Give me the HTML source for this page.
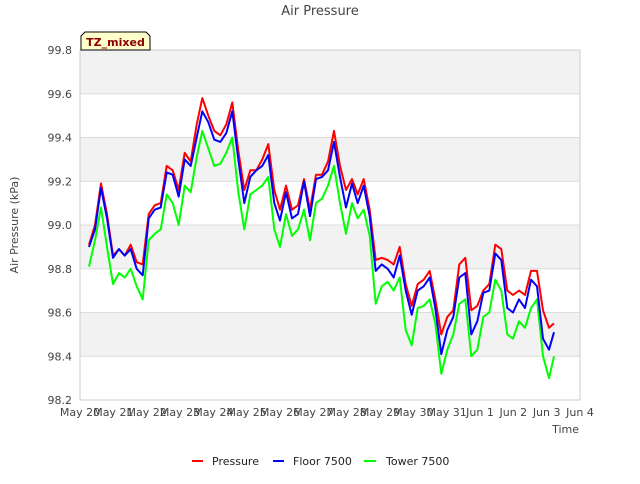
<!DOCTYPE html>
<html><head><meta charset="utf-8"><style>
body{margin:0;background:#fff;font-family:"DejaVu Sans","Liberation Sans",sans-serif;}
svg text{font-family:"DejaVu Sans","Liberation Sans",sans-serif;}
</style></head><body>
<svg id="c" width="640" height="480" xmlns="http://www.w3.org/2000/svg">
<text x="320" y="15" text-anchor="middle" font-size="13" fill="#444">Air Pressure</text>
<g id="bands"></g><g id="grid"></g>
<rect x="80" y="50" width="500" height="350" fill="none" stroke="#ccc"/>
<g id="yt"></g><g id="xt"></g><g id="series"></g>
<text x="18" y="225" transform="rotate(-90 18 225)" text-anchor="middle" font-size="11" fill="#444">Air Pressure (kPa)</text>
<text x="579" y="433" text-anchor="end" font-size="11" fill="#444">Time</text>
<g>
<path d="M81,50 L81,36 L85,32 L146,32 L150,36 L150,50 Z" fill="#ffffcc" stroke="#000" stroke-width="1"/>
<text x="115.5" y="46" text-anchor="middle" font-size="11" font-weight="bold" fill="#8b0000">TZ_mixed</text>
</g>
<g>
<g><line x1="192" y1="461" x2="203" y2="461" stroke="#ff0000" stroke-width="2"/><text x="212" y="465" font-size="11" fill="#222">Pressure</text></g>
<g><line x1="273" y1="461" x2="284" y2="461" stroke="#0000ff" stroke-width="2"/><text x="293" y="465" font-size="11" fill="#222">Floor 7500</text></g>
<g><line x1="364" y1="461" x2="376" y2="461" stroke="#00ff00" stroke-width="2"/><text x="386" y="465" font-size="11" fill="#222">Tower 7500</text></g>
</g>
</svg>
<script>
const yTicks=[98.2,98.4,98.6,98.8,99.0,99.2,99.4,99.6,99.8];
const xTickLabels=["May 20","May 21","May 22","May 23","May 24","May 25","May 26","May 27","May 28","May 29","May 30","May 31","Jun 1","Jun 2","Jun 3","Jun 4"];
const times=[0.27,0.45,0.63,0.81,0.99,1.17,1.34,1.52,1.70,1.88,2.06,2.24,2.42,2.60,2.78,2.96,3.14,3.32,3.50,3.67,3.85,4.03,4.21,4.39,4.57,4.75,4.93,5.11,5.29,5.47,5.65,5.83,6.00,6.18,6.36,6.54,6.72,6.90,7.08,7.26,7.44,7.62,7.80,7.98,8.16,8.33,8.51,8.69,8.87,9.05,9.23,9.41,9.59,9.77,9.95,10.13,10.31,10.49,10.66,10.84,11.02,11.20,11.38,11.56,11.74,11.92,12.10,12.28,12.46,12.64,12.82,12.99,13.17,13.35,13.53,13.71,13.89,14.07,14.22];
const pressure=[98.91,99.00,99.19,99.05,98.86,98.89,98.86,98.91,98.83,98.82,99.05,99.09,99.10,99.27,99.25,99.16,99.33,99.29,99.46,99.58,99.50,99.43,99.41,99.46,99.56,99.34,99.16,99.25,99.25,99.30,99.37,99.16,99.07,99.18,99.07,99.09,99.21,99.07,99.23,99.23,99.29,99.43,99.27,99.16,99.21,99.14,99.21,99.07,98.84,98.85,98.84,98.82,98.90,98.73,98.63,98.73,98.75,98.79,98.66,98.50,98.58,98.61,98.82,98.85,98.61,98.63,98.70,98.73,98.91,98.89,98.70,98.68,98.70,98.68,98.79,98.79,98.61,98.53,98.55];
const floor7500=[98.90,98.98,99.17,99.03,98.85,98.89,98.86,98.89,98.80,98.77,99.03,99.07,99.08,99.24,99.23,99.13,99.30,99.27,99.40,99.52,99.47,99.39,99.38,99.42,99.52,99.30,99.10,99.22,99.25,99.27,99.32,99.10,99.02,99.15,99.03,99.05,99.20,99.04,99.21,99.22,99.25,99.38,99.22,99.08,99.19,99.10,99.18,99.04,98.79,98.82,98.80,98.76,98.86,98.70,98.59,98.70,98.72,98.76,98.62,98.41,98.52,98.58,98.76,98.78,98.50,98.56,98.69,98.70,98.87,98.84,98.62,98.60,98.66,98.62,98.75,98.72,98.48,98.43,98.51];
const tower7500=[98.81,98.93,99.08,98.90,98.73,98.78,98.76,98.80,98.72,98.66,98.93,98.96,98.98,99.14,99.10,99.00,99.18,99.15,99.31,99.43,99.35,99.27,99.28,99.33,99.40,99.15,98.98,99.14,99.16,99.18,99.22,98.98,98.90,99.05,98.95,98.98,99.07,98.93,99.10,99.12,99.18,99.27,99.10,98.96,99.10,99.03,99.07,98.95,98.64,98.72,98.74,98.70,98.76,98.52,98.45,98.62,98.63,98.66,98.55,98.32,98.43,98.50,98.64,98.66,98.40,98.43,98.58,98.60,98.75,98.70,98.50,98.48,98.56,98.53,98.62,98.66,98.40,98.30,98.40];
const NS="http://www.w3.org/2000/svg";
const x=d=>80+d*(500/15);
const y=v=>400-(v-98.2)*(350/1.6);
function mk(t,a,p){const e=document.createElementNS(NS,t);for(const k in a)e.setAttribute(k,a[k]);p.appendChild(e);return e;}
const bands=document.getElementById('bands'),grid=document.getElementById('grid'),yt=document.getElementById('yt'),xt=document.getElementById('xt'),ser=document.getElementById('series');
for(let i=0;i<yTicks.length-1;i++){
  if(i%2===1){const r=mk('rect',{x:80,y:y(yTicks[i+1]),width:500,height:y(yTicks[i])-y(yTicks[i+1]),fill:'#f2f2f2'},bands);
  
  }
}
yTicks.forEach(v=>{
  const l=mk('line',{x1:80,x2:580,y1:y(v),y2:y(v),stroke:'#dcdcdc'},grid);
  
  
  const t=mk('text',{x:72,y:y(v)+4,'text-anchor':'end','font-size':11,fill:'#444'},yt);t.textContent=v.toFixed(1);
  
  
});
xTickLabels.forEach((s,i)=>{
  const t=mk('text',{x:x(i),y:416,'text-anchor':'middle','font-size':11,fill:'#444'},xt);t.textContent=s;
  
  
});
function line(arr,col,name){
  const d=arr.map((v,i)=>(i?'L':'M')+x(times[i]).toFixed(1)+','+y(v).toFixed(1)).join(' ');
  const p=mk('path',{d:d,fill:'none',stroke:col,'stroke-width':2,'stroke-linejoin':'round'},ser);
  
  
}
line(tower7500,'#00ff00','tower-7500-line');
line(pressure,'#ff0000','pressure-line');
line(floor7500,'#0000ff','floor-7500-line');
</script>
</body></html>
